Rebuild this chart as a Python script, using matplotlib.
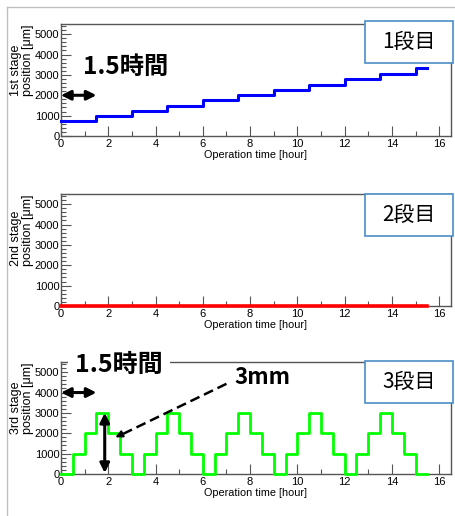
import matplotlib
matplotlib.use("Agg")
import matplotlib.pyplot as plt
from matplotlib.patches import Rectangle
from matplotlib.lines import Line2D
from matplotlib.ticker import MultipleLocator
from matplotlib import font_manager

# stage 1: slow ramp, one step every 1.5 hours
t1 = [0, 1.5, 3, 4.5, 6, 7.5, 9, 10.5, 12, 13.5, 15, 15.5]
pos1 = [720, 980, 1230, 1490, 1760, 1990, 2240, 2510, 2790, 3040, 3320, 3320]

# stage 2: not moving
t2 = [0, 15.5]
pos2 = [0, 0]

# stage 3: up / down in 0.5 hour steps
t3 = [0, 0.5, 1, 1.5, 2, 2.5, 3, 3.5, 4, 4.5, 5, 5.5, 6, 6.5, 7, 7.5, 8,
      8.5, 9, 9.5, 10, 10.5, 11, 11.5, 12, 12.5, 13, 13.5, 14, 14.5, 15, 15.5]
pos3 = [0, 1000, 2000, 3000, 2000, 1000, 0, 1000, 2000, 3000, 2000, 1000,
        0, 1000, 2000, 3000, 2000, 1000, 0, 1000, 2000, 3000, 2000, 1000,
        0, 1000, 2000, 3000, 2000, 1000, 0, 0]

ylabels = ["1st stage\nposition [\u03bcm]", "2nd stage\nposition [\u03bcm]",
           "3rd stage\nposition [\u03bcm]"]
box_labels = ["1段目", "2段目", "3段目"]
xlabel = "Operation time [hour]"

jp = ["Noto Sans CJK JP", "DejaVu Sans"]
# use a narrow face if the system has one, else plain Liberation Sans
names = set(f.name for f in font_manager.fontManager.ttflist)
if "Liberation Sans Narrow" in names:
    tick_font = dict(family="Liberation Sans Narrow", fontsize=9.5)
    xl_font = dict(family="Liberation Sans Narrow", fontsize=8.5)
else:
    tick_font = dict(family="Liberation Sans", fontsize=8)
    xl_font = dict(family="Liberation Sans", fontsize=7.8)
axcol = "#555555"

fig = plt.figure(figsize=(4.56, 5.16), dpi=100)

# grey frame of the slide
fig.add_artist(Line2D([7/456, 1], [1-7/516, 1-7/516], color="#c0c0c0", lw=1, transform=fig.transFigure))
fig.add_artist(Line2D([7/456, 7/456], [0, 1-7/516], color="#c0c0c0", lw=1, transform=fig.transFigure))

bottoms = [1-136/516, 1-306/516, 1-474/516]
series = [(t1, pos1, "#0000ff", 2.2), (t2, pos2, "#ff0000", 2.6), (t3, pos3, "#00ff00", 2.0)]
box_y = [21, 194, 361]

axes = []
for i in range(3):
    ax = fig.add_axes([61/456, bottoms[i], 390/456, 112/516])
    t, p, c, lw = series[i]
    ax.plot(t, p, drawstyle="steps-post", color=c, lw=lw, clip_on=False, zorder=3)
    ax.set_xlim(0, 16.5)
    ax.set_ylim(0, 5500)
    ax.xaxis.set_major_locator(MultipleLocator(2))
    ax.xaxis.set_minor_locator(MultipleLocator(1))
    ax.yaxis.set_major_locator(MultipleLocator(1000))
    ax.yaxis.set_minor_locator(MultipleLocator(200))
    ax.tick_params(which="both", direction="in", color=axcol, top=False, right=False)
    ax.tick_params(which="major", length=7, width=0.8)
    ax.tick_params(which="minor", length=3.5, width=0.8)
    ax.tick_params(axis="y", pad=1.2)
    ax.tick_params(axis="x", pad=2)
    for lab in ax.get_xticklabels() + ax.get_yticklabels():
        lab.set(**tick_font)
    for s in ax.spines.values():
        s.set_color(axcol)
        s.set_linewidth(1)
    ax.set_xlabel(xlabel, labelpad=1, **xl_font)
    ax.text(-0.1, 1.0, ylabels[i], rotation=90, ha="center", va="top",
            multialignment="left", linespacing=1.1, transform=ax.transAxes,
            family=["Liberation Sans", "DejaVu Sans"], fontsize=9)
    # label box on the right
    y0 = box_y[i]
    fig.add_artist(Rectangle((365/456, 1-(y0+42)/516), 88/456, 42/516,
                             transform=fig.transFigure, facecolor="white",
                             edgecolor="#4a8ec6", lw=1.2, zorder=10))
    fig.text(409/456, 1-(y0+21)/516, box_labels[i], ha="center", va="center",
             family=jp, fontsize=15, zorder=11)
    axes.append(ax)

ax1, ax2, ax3 = axes
arrow = dict(arrowstyle="<|-|>", color="black", lw=2.2, mutation_scale=14,
             shrinkA=0, shrinkB=0)

# panel 1 notes
ax1.annotate("", xy=(0, 2000), xytext=(1.5, 2000), arrowprops=arrow, annotation_clip=False)
ax1.text(2.75, 3400, "1.5時間", ha="center", va="center", family=jp,
         fontsize=17.5, fontweight="bold")

# panel 3 notes
ax3.annotate("", xy=(0, 4000), xytext=(1.5, 4000), arrowprops=arrow, annotation_clip=False)
ax3.annotate("", xy=(1.85, 3000), xytext=(1.85, 50), arrowprops=arrow, annotation_clip=False)
ax3.text(2.45, 5350, "1.5時間", ha="center", va="center", family=jp,
         fontsize=18, fontweight="bold", zorder=5,
         bbox=dict(facecolor="white", edgecolor="none", pad=5))
ax3.text(8.5, 4730, "3mm", ha="center", va="center", family=jp,
         fontsize=16, fontweight="bold")
ax3.plot([7.0, 2.45], [4430, 1870], color="black", lw=1.8, ls=(0, (4, 2)), zorder=4)
ax3.annotate("", xy=(2.3, 1800), xytext=(2.6, 1970),
             arrowprops=dict(arrowstyle="-|>", color="black", lw=1.5,
                             mutation_scale=10, shrinkA=0, shrinkB=0))

fig.savefig("out.png", dpi=100)
